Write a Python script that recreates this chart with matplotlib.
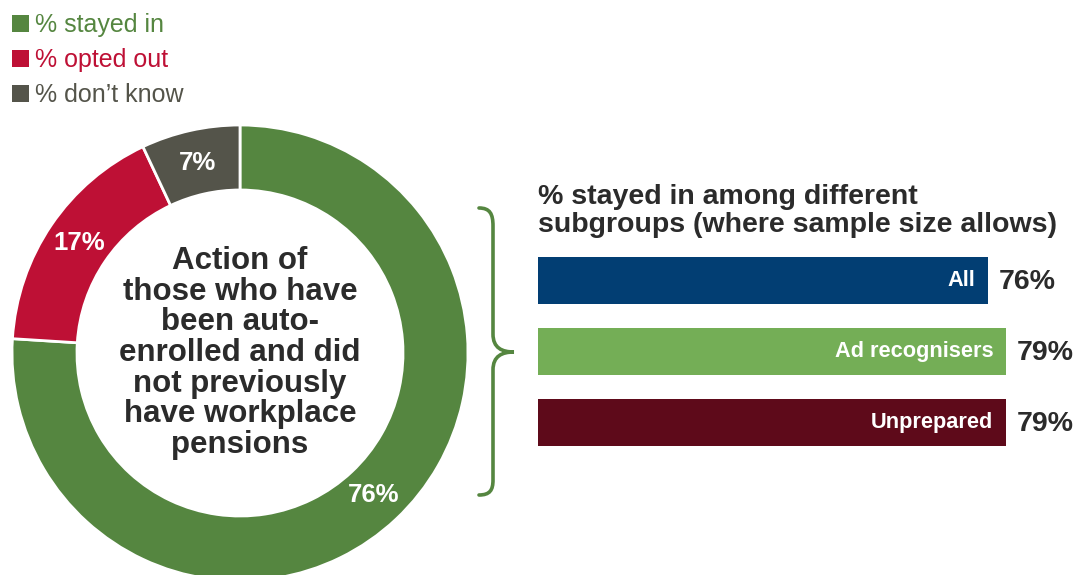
import matplotlib.pyplot as plt
from matplotlib.patches import Patch, PathPatch
from matplotlib.path import Path

plt.rcParams['font.family'] = ['Liberation Sans', 'DejaVu Sans']

# donut: action of auto-enrolled people
actions = ['% stayed in', '% opted out', '% don\u2019t know']
action_pct = [76, 17, 7]
action_colors = ['#558640', '#BE1035', '#54544A']

# bars: % stayed in by subgroup
groups = ['All', 'Ad recognisers', 'Unprepared']
stayed_pct = [76, 79, 79]
group_colors = ['#023E73', '#74AE56', '#5E0A1A']

dark = '#2B2B2B'
W, H = 1079, 575

fig = plt.figure(figsize=(W / 100, H / 100), dpi=100)

# donut chart, centre around (240, 353) px, radius 228 px
r = 228
ax = fig.add_axes([(240 - r) / W, (H - 353 - r) / H, 2 * r / W, 2 * r / H])
wedges, texts, autotexts = ax.pie(
    action_pct, colors=action_colors, startangle=90, counterclock=False,
    autopct=lambda p: f'{p:.0f}%', pctdistance=0.855,
    wedgeprops=dict(width=0.285, edgecolor='white', linewidth=2),
    textprops=dict(color='white', fontsize=18.5, fontweight='bold'))
ax.set_xlim(-1, 1)
ax.set_ylim(-1, 1)
ax.set_aspect('equal')
ax.text(0, 0.0, 'Action of\nthose who have\nbeen auto-\nenrolled and did\nnot previously\nhave workplace\npensions',
        ha='center', va='center', fontsize=22.5, fontweight='bold', color=dark,
        linespacing=1.03)

# legend at top left
handles = [Patch(facecolor=c) for c in action_colors]
fig.legend(handles, actions, loc='upper left', bbox_to_anchor=(0.002, 0.995),
           frameon=False, fontsize=18, labelcolor=action_colors,
           handlelength=0.68, handleheight=0.68, handletextpad=0.25,
           labelspacing=0.45, borderaxespad=0)

# subgroup bars
bx = fig.add_axes([538 / W, (H - 458) / H, 592 / W, 213 / H])
ypos = range(len(groups))
bx.barh(ypos, stayed_pct, height=0.66, color=group_colors)
bx.set_xlim(0, 100)
bx.set_ylim(2.5, -0.5)
bx.axis('off')
for y, g, v in zip(ypos, groups, stayed_pct):
    bx.annotate(g, (v, y), xytext=(-9, 0), textcoords='offset points',
                ha='right', va='center', color='white', fontsize=15.7,
                fontweight='bold')
    bx.annotate(f'{v}%', (v, y), xytext=(8, -1), textcoords='offset points',
                ha='left', va='center', color=dark, fontsize=20.5,
                fontweight='bold')

fig.text(538 / W, 1 - 184 / H, '% stayed in among different\nsubgroups (where sample size allows)',
         ha='left', va='top', fontsize=20.5, fontweight='bold', color=dark,
         linespacing=1.08)

# curly brace linking the donut to the bars, drawn in pixel space
ov = fig.add_axes([0, 0, 1, 1], zorder=-1)
ov.set_xlim(0, W)
ov.set_ylim(H, 0)
ov.axis('off')
verts = [(479, 208), (490, 208), (493, 214), (493, 226),
         (493, 334),
         (493, 348), (502, 352), (514, 352),
         (502, 352), (493, 356), (493, 370),
         (493, 480),
         (493, 490), (490, 495), (479, 495)]
codes = [Path.MOVETO, Path.CURVE4, Path.CURVE4, Path.CURVE4,
         Path.LINETO,
         Path.CURVE4, Path.CURVE4, Path.CURVE4,
         Path.CURVE4, Path.CURVE4, Path.CURVE4,
         Path.LINETO,
         Path.CURVE4, Path.CURVE4, Path.CURVE4]
ov.add_patch(PathPatch(Path(verts, codes), fill=False, edgecolor='#558640',
                       linewidth=2.6, capstyle='round'))

fig.savefig('out.png', dpi=100)
